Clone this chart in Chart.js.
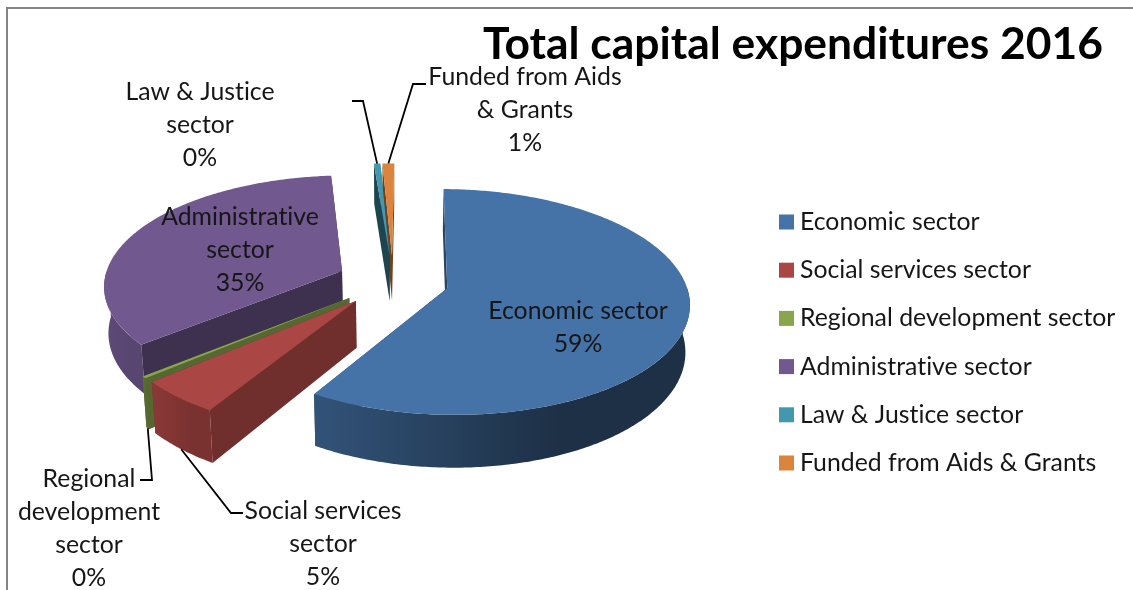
<!DOCTYPE html>
<html>
<head>
<meta charset="utf-8">
<title>Total capital expenditures 2016</title>
<script src="https://cdn.jsdelivr.net/npm/chart.js@4/dist/chart.umd.min.js"></script>
<style>
  html, body { margin: 0; padding: 0; background: #fff; }
  canvas { display: block; }
</style>
</head>
<body>
<canvas id="pie" width="1133" height="590"></canvas>
<script>
// Sector names and their shares of capital spending, in percent
const categories = ['Economic sector', 'Social services sector', 'Regional development sector',
                    'Administrative sector', 'Law & Justice sector', 'Funded from Aids & Grants'];
const shares = [58.55, 5, 0.3, 34.75, 0.49, 0.91];
const colors = ['#4673A7', '#AA4643', '#89A54E', '#71588F', '#4198AF', '#DB843D'];

// Side shading: outer wall from left to right, and the flat cut faces
const wallShades = [[0.72, 0.42], [0.82, 0.72], [0.7, 0.65], [0.84, 0.78], [0.5, 0.5], [0.6, 0.6]];
const faceShades = [0.6, 0.66, 0.63, 0.55, 0.45, 0.5];

// Wrapped callout text, placement and optional leader line for each slice
const calloutLines = [['Economic sector'], ['Social services', 'sector'], ['Regional', 'development', 'sector'],
                      ['Administrative', 'sector'], ['Law & Justice', 'sector'], ['Funded from Aids', '& Grants']];
const calloutPlaces = [[578, 311.5], [323, 511], [89, 479.5], [240, 217], [200, 92], [525, 77]];
const leaderElbows = [null, [[243, 513], [231, 513]], [[140, 480], [152, 480]], null,
                      [[352, 101], [363, 101]], [[426, 84], [413, 84]]];
const leaderFromBase = [false, true, true, false, false, false];
const paintOrder = [5, 4, 3, 2, 1, 0];

const FONT = 'Lato, Carlito, sans-serif';
const TEXT = '#161616';
const view = { cx: 393, cy: 281, tilt: 0.46, depth: 1962, height: 46, taper: 0.985 };

function shade(hex, f) {
  const n = parseInt(hex.slice(1), 16);
  return `rgb(${Math.round((n >> 16) * f)},${Math.round(((n >> 8) & 255) * f)},${Math.round((n & 255) * f)})`;
}

// Perspective projection of a point on the slice, angle in canvas radians
function project(el, angle, r, base) {
  const mid = (el.startAngle + el.endAngle) / 2;
  const off = el.options.offset;
  const X = off * Math.cos(mid) + r * Math.cos(angle);
  const Y = off * Math.sin(mid) + r * Math.sin(angle);
  const w = 1 - Y / view.depth;
  let x = X / w;
  let y = view.cy + view.tilt * Y / w;
  if (base) {
    x *= view.taper;
    y += view.height / w;
  }
  return [view.cx + x, y];
}

function arcPoints(el, from, to, base) {
  const n = Math.max(2, Math.ceil(Math.abs(to - from) / 0.012));
  const pts = [];
  for (let i = 0; i <= n; i++) pts.push(project(el, from + (to - from) * i / n, el.outerRadius, base));
  return pts;
}

function fillPoly(ctx, pts, fill) {
  ctx.beginPath();
  pts.forEach((p, i) => (i ? ctx.lineTo(p[0], p[1]) : ctx.moveTo(p[0], p[1])));
  ctx.closePath();
  ctx.fillStyle = fill;
  ctx.fill();
}

function cross(a, b, c) {
  return (b[0] - a[0]) * (c[1] - a[1]) - (b[1] - a[1]) * (c[0] - a[0]);
}

function drawSlice(ctx, el, i) {
  const color = colors[i];
  const apex = project(el, 0, 0, false);
  const apexBase = project(el, 0, 0, true);
  const mid = project(el, (el.startAngle + el.endAngle) / 2, el.outerRadius * 0.6, false);
  const faces = [el.startAngle, el.endAngle].map(angle => {
    const p = project(el, angle, el.outerRadius, false);
    const q = project(el, angle, el.outerRadius, true);
    const below = [apex[0], apex[1] + 1];
    return { poly: [apex, p, q, apexBase], front: cross(apex, p, mid) * cross(apex, p, below) < 0 };
  });
  const faceFill = shade(color, faceShades[i]);
  faces.filter(f => !f.front).forEach(f => fillPoly(ctx, f.poly, faceFill));

  // Outer wall: only the part that turns toward the viewer
  [[0, Math.PI], [2 * Math.PI, 3 * Math.PI]].forEach(([lo, hi]) => {
    const from = Math.max(el.startAngle, lo), to = Math.min(el.endAngle, hi);
    if (to <= from) return;
    const top = arcPoints(el, from, to, false);
    const bottom = arcPoints(el, to, from, true);
    const xs = top.map(p => p[0]);
    const g = ctx.createLinearGradient(Math.min(...xs), 0, Math.max(...xs), 0);
    const s = wallShades[i];
    g.addColorStop(0, shade(color, s[0]));
    g.addColorStop(0.65, shade(color, s[1]));
    g.addColorStop(1, shade(color, s[1]));
    fillPoly(ctx, top.concat(bottom), g);
  });
  faces.filter(f => f.front).forEach(f => fillPoly(ctx, f.poly, faceFill));

  fillPoly(ctx, [apex].concat(arcPoints(el, el.startAngle, el.endAngle, false)), color);
}

function drawCallouts(ctx, arcs, total) {
  ctx.textAlign = 'center';
  ctx.textBaseline = 'middle';
  ctx.font = `24.8px ${FONT}`;
  ctx.letterSpacing = '0.01px';
  categories.forEach((name, i) => {
    const [x, y] = calloutPlaces[i];
    const lines = calloutLines[i].concat(`${Math.round(shares[i] / total * 100)}%`);
    ctx.fillStyle = TEXT;
    lines.forEach((t, k) => ctx.fillText(t, x, y + k * 32.9));
    const elbow = leaderElbows[i];
    if (elbow) {
      const el = arcs[i];
      const tip = project(el, (el.startAngle + el.endAngle) / 2, el.outerRadius, leaderFromBase[i]);
      ctx.beginPath();
      ctx.moveTo(elbow[0][0], elbow[0][1]);
      ctx.lineTo(elbow[1][0], elbow[1][1]);
      ctx.lineTo(tip[0], tip[1]);
      ctx.strokeStyle = '#000';
      ctx.lineWidth = 1.8;
      ctx.stroke();
    }
  });
}

function drawLegend(ctx) {
  ctx.textAlign = 'left';
  ctx.textBaseline = 'middle';
  ctx.font = `24.8px ${FONT}`;
  ctx.letterSpacing = '0.01px';
  categories.forEach((name, i) => {
    const y = 222 + i * 48.2;
    ctx.fillStyle = colors[i];
    ctx.fillRect(779, y - 7.5, 15, 15);
    ctx.fillStyle = TEXT;
    ctx.fillText(name, 800, y);
  });
}

const pie3d = {
  id: 'pie3d',
  beforeDraw(chart) {
    const ctx = chart.ctx;
    ctx.save();
    ctx.strokeStyle = '#858585';
    ctx.lineWidth = 2;
    ctx.beginPath();
    ctx.moveTo(7, 590);
    ctx.lineTo(7, 8);
    ctx.lineTo(1133, 8);
    ctx.stroke();
    ctx.restore();
  },
  beforeDatasetDraw(chart, args) {
    const ctx = chart.ctx;
    const arcs = args.meta.data;
    ctx.save();
    paintOrder.forEach(i => drawSlice(ctx, arcs[i], i));
    const total = shares.reduce((a, b) => a + b, 0);
    drawCallouts(ctx, arcs, total);
    drawLegend(ctx);
    ctx.restore();
    return false;
  }
};

new Chart(document.getElementById('pie'), {
  type: 'pie',
  data: {
    labels: categories,
    datasets: [{ data: shares, backgroundColor: colors, offset: 56, borderWidth: 0 }]
  },
  options: {
    responsive: false,
    animation: false,
    radius: 238,
    rotation: 0.6,
    layout: { padding: { top: 18, right: 30, left: 10, bottom: 10 } },
    plugins: {
      legend: { display: false },
      tooltip: { enabled: false },
      title: {
        display: true,
        text: 'Total capital expenditures 2016',
        align: 'end',
        color: '#000',
        font: { family: FONT, size: 44.4, weight: 'bold' },
        padding: { top: 0, bottom: 8 }
      }
    }
  },
  plugins: [pie3d]
});
</script>
</body>
</html>
